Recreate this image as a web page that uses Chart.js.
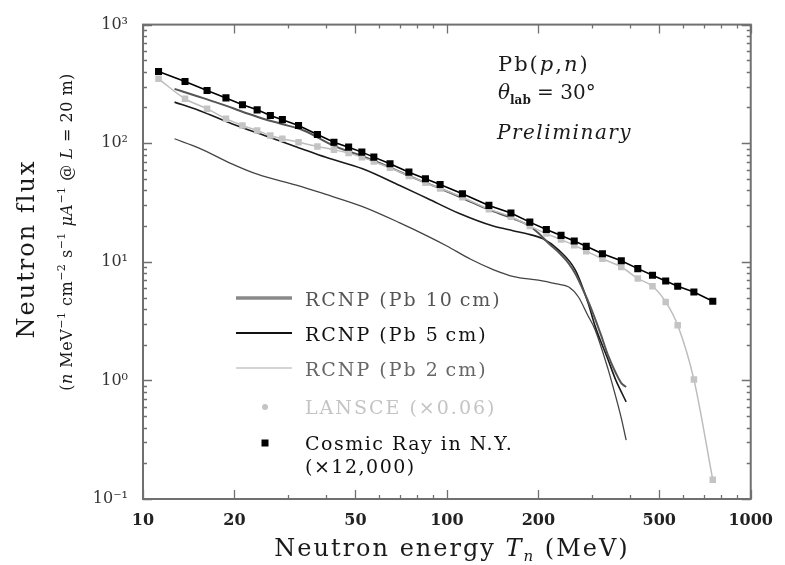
<!DOCTYPE html>
<html>
<head>
<meta charset="utf-8">
<script src="https://cdn.jsdelivr.net/npm/chart.js@4/dist/chart.umd.min.js"></script>
<style>
html, body { margin: 0; padding: 0; background: #fff; }
</style>
</head>
<body>
<canvas id="chart" width="785" height="565"></canvas>
<script>
var SERIF = '"DejaVu Serif", serif';

// bin centres (MeV) shared by the cosmic ray and LANSCE points
var binEnergy = [11.25, 13.75, 16.25, 18.75, 21.25, 23.75, 26.25, 28.75, 32.5, 37.5,
    42.5, 47.5, 52.5, 57.5, 65, 75, 85, 95, 112.5, 137.5,
    162.5, 187.5, 212.5, 237.5, 262.5, 287.5, 325, 375, 425, 475,
    525, 575, 650, 750];
var cosmicFlux = [402, 331, 278, 241, 211, 191, 171, 158, 141, 118.5,
    102, 92.6, 84.1, 76.3, 67.1, 57.0, 50.2, 44.9, 37.5, 29.9,
    25.8, 21.6, 18.7, 16.7, 15.0, 13.5, 11.7, 10.2, 8.76, 7.70,
    6.89, 6.22, 5.57, 4.65];
var lansceFlux = [349, 237, 195, 161, 141, 128, 116, 109, 102, 93.9,
    88, 82.5, 76.3, 70, 62, 53, 46.5, 41.5, 35, 27.8,
    24, 20, 17.3, 15.4, 13.8, 12.3, 10.6, 9.04, 7.22, 6.22,
    4.59, 2.92, 1.02, 0.145];

// RCNP curves
var pb10Energy = [12.7, 15, 17.3, 20, 22.2, 25, 28.4, 33.8, 42.5, 52.5, 65, 75, 95, 112.5,
    137.5, 162.5, 187.5, 200, 217, 235, 252, 265, 278, 300, 320, 340, 360, 375, 389];
var pb10Flux = [287, 250, 222, 195, 177, 160, 146, 128, 95, 78, 62.5, 53, 41.5, 34.5,
    27.5, 23.5, 20, 17.5, 14.2, 11.8, 9.66, 7.9, 6.13, 3.9, 2.5, 1.6, 1.15, 0.95, 0.88];

var pb5Energy = [12.7, 15.3, 19.6, 25.1, 32.2, 40, 52.8, 70, 86.7, 110, 142, 165, 182,
    206.5, 234, 265, 292, 307, 339, 360, 375, 389];
var pb5Flux = [222, 189, 146, 116, 92.6, 76, 60.9, 44, 34, 25.5, 20.0, 18.3, 17.3,
    15.7, 12.5, 8.48, 4.45, 2.9, 1.5, 1.0, 0.8, 0.66];

var pb2Energy = [12.7, 15.3, 19.6, 23.9, 32.2, 40, 52.8, 70, 86.7, 100, 119.8, 142, 166,
    200, 230, 252, 271, 290, 307, 339, 356, 375, 389];
var pb2Flux = [109, 91, 67, 54.5, 44.1, 37, 29.2, 21.3, 16.4, 13.6, 10.5, 8.6, 7.5,
    7.0, 6.5, 6.13, 5.05, 3.6, 2.7, 1.25, 0.8, 0.48, 0.314];

var xTicks = [10, 20, 50, 100, 200, 500, 1000];
var xTickLabels = ['10', '20', '50', '100', '200', '500', '1000'];
var yTicks = [0.1, 1, 10, 100, 1000];
var yTickLabels = ['10\u207B\u00B9', '10\u2070', '10\u00B9', '10\u00B2', '10\u00B3'];

function pts(xs, ys) {
    return xs.map(function (x, i) { return { x: x, y: ys[i] }; });
}

// text made of pieces with their own font and vertical shift
function drawRich(ctx, parts, x, y, align, spacing) {
    ctx.letterSpacing = (spacing || 0) + 'px';
    var w = 0;
    parts.forEach(function (p) { ctx.font = p[1]; w += ctx.measureText(p[0]).width; });
    var cx = align === 'center' ? x - w / 2 : x;
    parts.forEach(function (p) {
        ctx.font = p[1];
        ctx.fillText(p[0], cx, y + (p[2] || 0));
        cx += ctx.measureText(p[0]).width;
    });
    ctx.letterSpacing = '0px';
}

var framePlugin = {
    id: 'frame',
    afterDraw: function (chart) {
        var ctx = chart.ctx, a = chart.chartArea;
        var xs = chart.scales.x, ys = chart.scales.y;
        ctx.save();
        ctx.strokeStyle = '#707070';
        ctx.lineWidth = 2;
        ctx.strokeRect(a.left, a.top, a.right - a.left, a.bottom - a.top);
        ctx.lineWidth = 1.3;
        ctx.beginPath();
        [10, 100].forEach(function (dec) {
            for (var m = 1; m <= 10; m++) {
                var v = m * dec;
                var len = xTicks.indexOf(v) >= 0 ? 9 : 4;
                var px = Math.round(xs.getPixelForValue(v)) + 0.5;
                ctx.moveTo(px, a.bottom); ctx.lineTo(px, a.bottom - len);
                ctx.moveTo(px, a.top); ctx.lineTo(px, a.top + len);
            }
        });
        [0.1, 1, 10, 100].forEach(function (dec) {
            for (var m = 1; m <= 10; m++) {
                var v = m * dec;
                var len = m === 1 || m === 10 ? 9 : 4;
                var py = Math.round(ys.getPixelForValue(v)) + 0.5;
                ctx.moveTo(a.left, py); ctx.lineTo(a.left + len, py);
                ctx.moveTo(a.right, py); ctx.lineTo(a.right - len, py);
            }
        });
        ctx.stroke();
        ctx.restore();
    }
};

var textPlugin = {
    id: 'texts',
    afterDraw: function (chart) {
        var ctx = chart.ctx;
        ctx.save();
        ctx.textBaseline = 'alphabetic';
        ctx.fillStyle = '#1a1a1a';

        // axis titles
        drawRich(ctx, [
            ['Neutron energy ', '24px ' + SERIF],
            ['T', 'italic 24px ' + SERIF],
            ['n', 'italic 15px ' + SERIF, 5],
            [' (MeV)', '24px ' + SERIF]
        ], 452, 556, 'center', 2);

        ctx.save();
        ctx.translate(34, 249);
        ctx.rotate(-Math.PI / 2);
        drawRich(ctx, [['Neutron flux', '24px ' + SERIF]], 0, 0, 'center', 2);
        ctx.restore();

        ctx.save();
        ctx.translate(72, 232);
        ctx.rotate(-Math.PI / 2);
        drawRich(ctx, [
            ['(', '16px ' + SERIF],
            ['n', 'italic 16px ' + SERIF],
            [' MeV', '16px ' + SERIF],
            ['\u22121', '11px ' + SERIF, -7],
            [' cm', '16px ' + SERIF],
            ['\u22122', '11px ' + SERIF, -7],
            [' s', '16px ' + SERIF],
            ['\u22121', '11px ' + SERIF, -7],
            [' \u03BCA', 'italic 16px ' + SERIF],
            ['\u22121', '11px ' + SERIF, -7],
            [' @ ', '16px ' + SERIF],
            ['L', 'italic 16px ' + SERIF],
            [' = 20 m)', '16px ' + SERIF]
        ], 0, 0, 'center', 0.5);
        ctx.restore();

        // annotations
        drawRich(ctx, [
            ['Pb(', '21px ' + SERIF],
            ['p', 'italic 21px ' + SERIF],
            [',', '21px ' + SERIF],
            ['n', 'italic 21px ' + SERIF],
            [')', '21px ' + SERIF]
        ], 498, 71, 'left', 2);
        drawRich(ctx, [
            ['\u03B8', 'italic 20px ' + SERIF],
            ['lab', 'bold 12px ' + SERIF, 5],
            [' = 30\u00B0', '20px ' + SERIF]
        ], 498, 99);
        drawRich(ctx, [['Preliminary', 'italic 20px ' + SERIF]], 497, 139, 'left', 1.5);

        // legend
        var rows = [
            { y: 298, color: '#8a8a8a', width: 3.5, text: 'RCNP (Pb 10\u2009cm)', tc: '#555' },
            { y: 333, color: '#111', width: 1.8, text: 'RCNP (Pb 5\u2009cm)', tc: '#111' },
            { y: 368, color: '#aaa', width: 1.2, text: 'RCNP (Pb 2\u2009cm)', tc: '#666' }
        ];
        rows.forEach(function (r) {
            ctx.strokeStyle = r.color;
            ctx.lineWidth = r.width;
            ctx.beginPath();
            ctx.moveTo(236, r.y); ctx.lineTo(292, r.y);
            ctx.stroke();
            ctx.fillStyle = r.tc;
            drawRich(ctx, [[r.text, '19px ' + SERIF]], 305, r.y + 8, 'left', 2);
        });
        ctx.fillStyle = '#c4c4c4';
        ctx.beginPath();
        ctx.arc(265, 407, 3, 0, Math.PI * 2);
        ctx.fill();
        drawRich(ctx, [['LANSCE (\u00D70.06)', '19px ' + SERIF]], 305, 414, 'left', 2);
        ctx.fillStyle = '#000';
        ctx.fillRect(261.5, 439.5, 7, 7);
        ctx.fillStyle = '#111';
        drawRich(ctx, [['Cosmic Ray in N.Y.', '19px ' + SERIF]], 305, 450, 'left', 1.5);
        drawRich(ctx, [['(\u00D712,000)', '19px ' + SERIF]], 305, 473, 'left', 1.5);
        ctx.restore();
    }
};

new Chart(document.getElementById('chart'), {
    type: 'scatter',
    data: {
        datasets: [{
            label: 'Cosmic Ray in N.Y. (x12,000)',
            data: pts(binEnergy, cosmicFlux),
            showLine: true,
            borderColor: '#000',
            borderWidth: 1.6,
            pointStyle: 'rect',
            pointRadius: 5,
            pointBackgroundColor: '#000',
            pointBorderColor: '#000',
            pointBorderWidth: 0
        }, {
            label: 'LANSCE (x0.06)',
            data: pts(binEnergy, lansceFlux),
            showLine: true,
            borderColor: '#bdbdbd',
            borderWidth: 1.5,
            cubicInterpolationMode: 'monotone',
            pointStyle: 'rect',
            pointRadius: 4.6,
            pointBackgroundColor: '#c4c4c4',
            pointBorderColor: '#c4c4c4',
            pointBorderWidth: 0
        }, {
            label: 'RCNP (Pb 10cm)',
            data: pts(pb10Energy, pb10Flux),
            showLine: true,
            borderColor: '#555',
            borderWidth: 2,
            cubicInterpolationMode: 'monotone',
            pointRadius: 0
        }, {
            label: 'RCNP (Pb 5cm)',
            data: pts(pb5Energy, pb5Flux),
            showLine: true,
            borderColor: '#1a1a1a',
            borderWidth: 1.6,
            cubicInterpolationMode: 'monotone',
            pointRadius: 0
        }, {
            label: 'RCNP (Pb 2cm)',
            data: pts(pb2Energy, pb2Flux),
            showLine: true,
            borderColor: '#444',
            borderWidth: 1.3,
            cubicInterpolationMode: 'monotone',
            pointRadius: 0
        }]
    },
    options: {
        responsive: false,
        animation: false,
        devicePixelRatio: 1,
        layout: { padding: { top: 24, right: 23, left: 0, bottom: 0 } },
        plugins: {
            legend: { display: false },
            tooltip: { enabled: false }
        },
        scales: {
            x: {
                type: 'logarithmic',
                min: 10,
                max: 1000,
                grid: { display: false, drawTicks: false },
                border: { display: false },
                afterBuildTicks: function (scale) {
                    scale.ticks = xTicks.map(function (v) { return { value: v }; });
                },
                afterFit: function (scale) { scale.height = 66; },
                ticks: {
                    autoSkip: false,
                    maxRotation: 0,
                    padding: 12,
                    color: '#222',
                    font: { family: SERIF, size: 16, weight: 'bold' },
                    callback: function (value, index) { return xTickLabels[index]; }
                }
            },
            y: {
                type: 'logarithmic',
                min: 0.1,
                max: 1000,
                grid: { display: false, drawTicks: false },
                border: { display: false },
                afterBuildTicks: function (scale) {
                    scale.ticks = yTicks.map(function (v) { return { value: v }; });
                },
                afterFit: function (scale) { scale.width = 143; },
                ticks: {
                    autoSkip: false,
                    padding: 15,
                    color: '#333',
                    font: { family: SERIF, size: 16 },
                    callback: function (value, index) { return yTickLabels[index]; }
                }
            }
        }
    },
    plugins: [framePlugin, textPlugin]
});
</script>
</body>
</html>
